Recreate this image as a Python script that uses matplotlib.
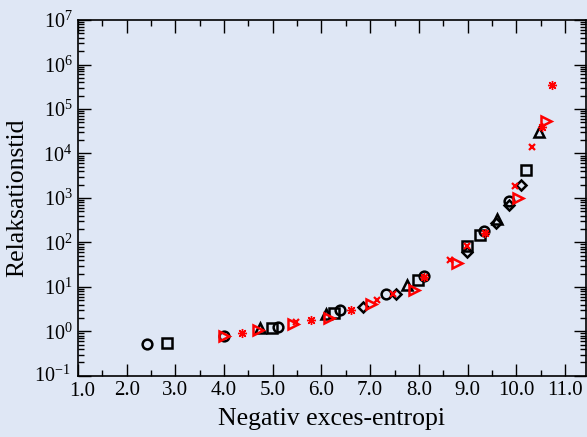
import numpy as np
import matplotlib.pyplot as plt
import matplotlib.transforms as mtransforms
from matplotlib.ticker import MultipleLocator, FormatStrFormatter, LogLocator, LogFormatterMathtext

plt.rcParams['font.family'] = ['Liberation Serif', 'DejaVu Serif']
plt.rcParams['mathtext.fontset'] = 'stix'

# black series
circ_x = [2.41, 4.0, 5.11, 6.39, 7.32, 8.1, 9.34, 9.85]
circ_y = [0.51, 0.78, 1.27, 3.0, 7.1, 18, 180, 850]
sq_x = [2.83, 4.98, 6.26, 7.99, 8.99, 9.25, 10.21]
sq_y = [0.56, 1.2, 2.6, 14, 83, 144, 4200]
tri_x = [4.74, 6.09, 7.76, 9.61, 10.47]
tri_y = [1.2, 2.45, 10.8, 340, 30000]
dia_x = [6.85, 7.54, 8.98, 9.58, 9.85, 10.09]
dia_y = [3.6, 6.8, 60, 268, 680, 2000]

# red series
ast_x = [4.36, 5.78, 6.6, 8.1, 9.36, 10.52, 10.74]
ast_y = [0.93, 1.8, 3.1, 17, 160, 40000, 340000]
cross_x = [5.48, 7.15, 7.47, 8.64, 8.99, 9.97, 10.33]
cross_y = [1.6, 5.0, 7.1, 40, 85, 1900, 14000]
rtri_x = [4.0, 4.69, 5.41, 6.16, 7.01, 7.91, 8.79, 10.04, 10.61]
rtri_y = [0.8, 1.07, 1.5, 2.0, 4.2, 8.5, 35, 1000, 55000]

bg = '#dfe7f5'
fig = plt.figure(figsize=(5.87, 4.37), dpi=100, facecolor=bg)
ax = fig.add_axes([0.133, 0.14, 0.865, 0.814], facecolor=bg)

ax.plot(circ_x, circ_y, 'o', ms=7, mfc='none', mec='k', mew=1.8)
ax.plot(sq_x, sq_y, 's', ms=6.5, mfc='none', mec='k', mew=1.8)
ax.plot(tri_x, tri_y, '^', ms=7.5, mfc='none', mec='k', mew=1.8)
ax.plot(dia_x, dia_y, 'D', ms=5.5, mfc='none', mec='k', mew=1.8)

ax.plot(ast_x, ast_y, marker=(8, 2, 0), ls='none', ms=6.5, mec='red', mew=1.0)
ax.plot(cross_x, cross_y, 'x', ms=5, mec='red', mew=1.6)
ax.plot(rtri_x, rtri_y, '>', ms=7.5, mfc='none', mec='red', mew=1.8)

ax.set_yscale('log')
ax.set_xlim(1.0, 11.43)
ax.set_ylim(0.1, 1e7)

ax.xaxis.set_major_locator(MultipleLocator(1.0))
ax.xaxis.set_minor_locator(MultipleLocator(0.5))
ax.xaxis.set_major_formatter(FormatStrFormatter('%.1f'))
ax.yaxis.set_major_locator(LogLocator(base=10, numticks=20))
ax.yaxis.set_minor_locator(LogLocator(base=10, subs=np.arange(2, 10), numticks=20))
ax.yaxis.set_major_formatter(LogFormatterMathtext())

ax.tick_params(which='both', direction='in', top=True, right=True, width=1)
ax.tick_params(which='major', length=9)
ax.tick_params(which='minor', length=4.5)
ax.tick_params(axis='x', pad=4, labelsize=15)
ax.tick_params(axis='y', pad=4, labelsize=14.5)
for s in ax.spines.values():
    s.set_linewidth(1.2)

ax.set_xlabel('Negativ exces-entropi', fontsize=18.5, labelpad=5)
ax.set_ylabel('Relaksationstid', fontsize=18.5, labelpad=4)

# nudge the two corner labels apart so they don't collide
fig.canvas.draw()
for lbl in ax.get_xticklabels():
    if lbl.get_text() == '1.0':
        lbl.set_transform(lbl.get_transform() + mtransforms.ScaledTranslation(4 / 100, -1 / 100, fig.dpi_scale_trans))
ylabels = [l for l in ax.get_yticklabels() if l.get_position()[1] == 0.1]
for lbl in ylabels:
    lbl.set_transform(lbl.get_transform() + mtransforms.ScaledTranslation(-2 / 100, 2 / 100, fig.dpi_scale_trans))

fig.savefig('out.png', dpi=100, facecolor=bg)
